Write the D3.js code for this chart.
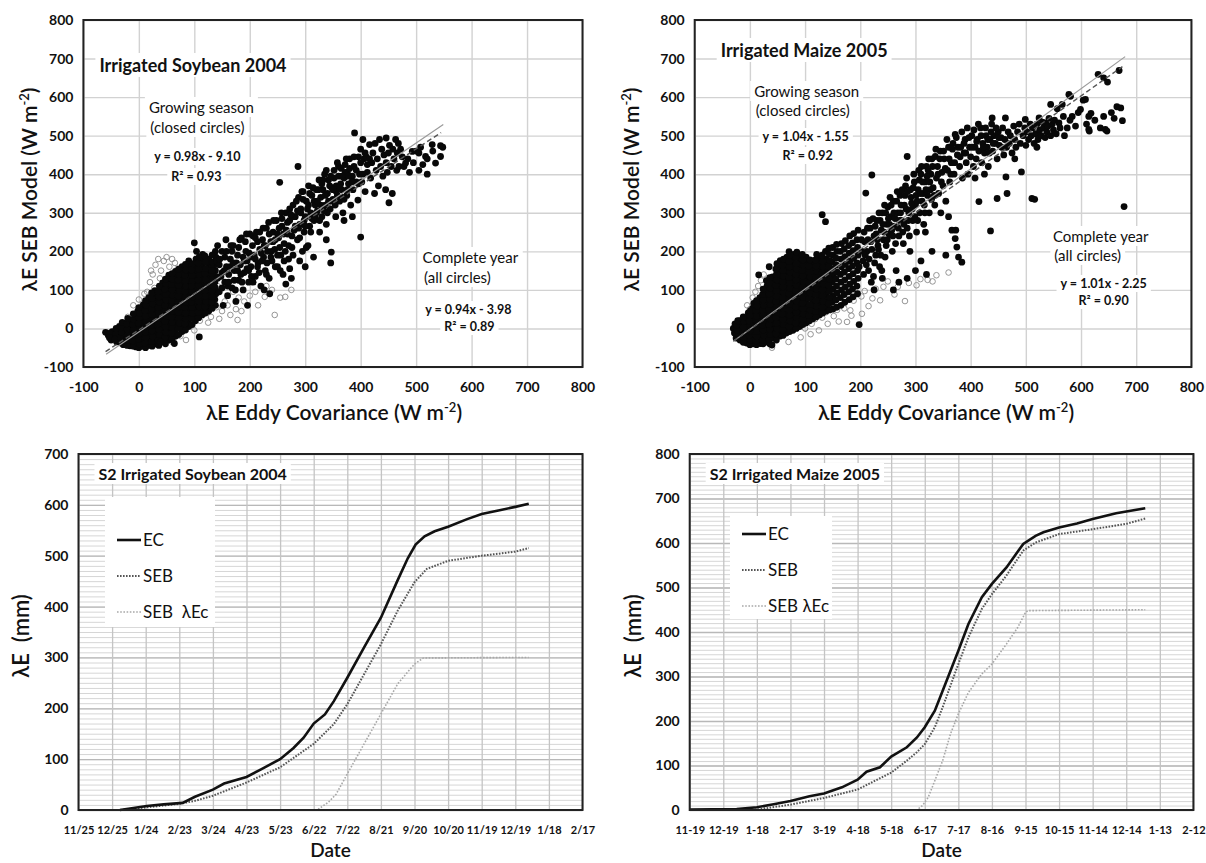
<!DOCTYPE html>
<html>
<head>
<meta charset="utf-8">
<title>SEB model vs eddy covariance</title>
<script src="https://d3js.org/d3.v7.min.js"></script>
<style>
  body { margin: 0; background: #fff; }
  text { font-family: Lato, "Open Sans", sans-serif; fill: #111; }
</style>
</head>
<body>
<svg width="1206" height="863"></svg>
<script>
// ---- data ----
const scatterTicks = [-100, 0, 100, 200, 300, 400, 500, 600, 700, 800];

// soybean 2004: growing season (closed) and rest of year (open), W m-2
const soyClosed = [
  [-60,-10],[-55,-18],[-48,-8],[-45,-20],[-50,-30],[-38,-5],[-36,-20],[-40,-35],[-35,5],
  [-28,-42],[-26,-28],[-29,-14],[-27,0],[-25,12],[-16,-45],[-15,-32],[-17,-18],[-14,-4],[-16,10],[-15,22],
  [-5,-48],[-4,-35],[-6,-22],[-3,-8],[-5,6],[-4,20],[-6,32],[-2,45],
  [6,-46],[5,-33],[7,-20],[6,-6],[5,8],[7,22],[6,36],[5,50],[8,62],
  [18,-44],[17,-30],[19,-16],[18,-2],[17,12],[19,26],[18,40],[17,54],[19,68],[18,80],
  [30,-40],[29,-26],[31,-12],[30,2],[29,16],[31,30],[30,44],[29,58],[31,72],[30,86],[29,98],
  [42,-35],[41,-20],[43,-6],[42,8],[41,22],[43,36],[42,50],[41,64],[43,78],[42,92],[41,106],[43,118],
  [54,-30],[53,-15],[55,0],[54,14],[53,28],[55,42],[54,56],[53,70],[55,84],[54,98],[53,112],[55,126],[54,138],
  [66,-20],[65,-6],[67,8],[66,22],[65,36],[67,50],[66,64],[65,78],[67,92],[66,106],[65,120],[67,134],[66,148],
  [78,-8],[77,6],[79,20],[78,34],[77,48],[79,62],[78,76],[77,90],[79,104],[78,118],[77,132],[79,146],[78,160],
  [90,5],[89,19],[91,33],[90,47],[89,61],[91,75],[90,89],[89,103],[91,117],[90,131],[89,145],[91,160],[90,175],
  [102,20],[101,34],[103,48],[102,62],[101,76],[103,90],[102,104],[101,118],[103,132],[102,146],[101,160],[103,180],[100,222],[104,200],
  [114,35],[113,50],[115,64],[114,78],[113,92],[115,106],[114,120],[113,134],[115,148],[114,162],[113,178],[115,192],
  [126,45],[125,60],[127,75],[126,90],[125,105],[127,120],[126,135],[125,150],[127,165],[126,180],
  [138,60],[137,75],[139,90],[138,105],[137,120],[139,135],[138,150],[137,165],[139,185],[138,200],
  [-52,-12],[-53,-24],[-42,-14],[-43,-28],[-41,0],[-32,-38],[-33,-24],[-31,-10],[-32,4],[-30,16],
  [-21,-44],[-22,-30],[-20,-16],[-21,-2],[-22,12],[-20,26],[-10,-46],[-11,-32],[-9,-18],[-10,-4],[-11,10],[-9,24],[-10,38],
  [0,-50],[1,-40],[-1,-28],[0,-14],[1,0],[-1,14],[0,28],[1,40],[0,54],
  [12,-50],[11,-38],[13,-24],[12,-10],[11,4],[13,18],[12,32],[11,46],[13,60],[12,72],
  [24,-46],[23,-34],[25,-20],[24,-6],[23,8],[25,22],[24,36],[23,50],[25,64],[24,78],[23,92],
  [36,-44],[35,-30],[37,-16],[36,-2],[35,12],[37,26],[36,40],[35,54],[37,68],[36,82],[35,96],[37,110],
  [48,-40],[47,-24],[49,-10],[48,4],[47,18],[49,32],[48,46],[47,60],[49,74],[48,88],[47,102],[49,116],[48,128],
  [60,-28],[59,-12],[61,2],[60,16],[59,30],[61,44],[60,58],[59,72],[61,86],[60,100],[59,114],[61,128],[60,142],
  [72,-16],[71,0],[73,14],[72,28],[71,42],[73,56],[72,70],[71,84],[73,98],[72,112],[71,126],[73,140],[72,154],
  [84,-4],[83,12],[85,26],[84,40],[83,54],[85,68],[84,82],[83,96],[85,110],[84,124],[83,138],[85,152],[84,166],
  [96,10],[95,26],[97,40],[96,54],[95,68],[97,82],[96,96],[95,110],[97,124],[96,138],[95,152],[97,168],
  [108,28],[107,42],[109,56],[108,70],[107,84],[109,98],[108,112],[107,126],[109,140],[108,154],[107,170],[109,186],
  [120,40],[119,56],[121,70],[120,84],[119,98],[121,112],[120,126],[119,142],[121,156],[120,172],[119,188],
  [132,52],[131,68],[133,82],[132,98],[131,112],[133,128],[132,142],[131,158],[133,172],[132,190],
  [64,-39],[39,-35],[109,-22],
  [132,150],[135,110],[140,175],[145,95],[148,135],[150,200],[152,60],[155,120],[158,160],[160,85],[142,215],[157,230],
  [162,140],[165,180],[168,105],[170,215],[172,150],[175,70],[178,190],[180,125],[183,165],[185,235],[188,100],[190,145],[193,200],[195,175],[198,120],[200,245],[196,60],
  [202,160],[205,215],[208,190],[210,135],[212,250],[215,170],[218,205],[220,110],[223,230],[225,185],[228,150],[230,260],[232,200],[235,130],[238,225],[240,175],[236,90],[226,100],
  [242,250],[245,205],[248,280],[250,160],[252,235],[254,379],[256,190],[258,265],[260,140],[262,220],[265,300],[268,245],[270,180],[272,280],[275,130],[276,210],[278,320],[280,255],[265,115],[255,150],[272,155],
  [282,290],[287,420],[286,230],[288,340],[290,270],[292,310],[295,200],[296,355],[298,250],[300,290],[302,330],[305,215],[306,370],[308,265],[310,300],[312,345],[315,185],[316,280],[318,320],[320,360],[300,160],[290,175],
  [322,305],[325,385],[326,250],[328,340],[330,290],[332,360],[335,400],[336,320],[338,270],[340,350],[342,385],[345,310],[346,170],[348,365],[350,335],[352,410],[355,290],[356,370],[358,345],[360,395],[347,198],[338,230],
  [362,330],[365,415],[366,360],[368,300],[370,390],[372,425],[375,345],[376,405],[378,375],[380,440],[382,320],[385,395],[386,360],[388,420],[389,507],[392,380],[395,333],[396,445],[398,400],[400,237],[400,465],[385,290],[370,280],
  [402,380],[404,490],[406,440],[408,355],[410,445],[412,405],[416,477],[418,390],[420,430],[422,455],[425,350],[426,480],[428,410],[430,440],[432,370],[434,490],[436,420],[438,465],[440,395],[442,450],[446,494],[446,430],[448,405],[450,455],[451,326],[457,350],[445,360],
  [452,475],[455,420],[458,465],[460,440],[463,490],[465,410],[466,455],[468,480],[469,420],[472,465],[475,445],[478,420],[481,429],[485,440],[488,405],[493,459],[495,430],[500,460],[505,455],[508,470],[512,425],[517,446],[520,440],[529,477],[530,460],[535,429],[544,474],[544,446],[548,470],[520,400],[505,410],
  [145,165],[150,145],[155,185],[160,110],[165,160],[168,200],[172,125],[176,170],[180,210],[184,140],[188,185],[192,225],[195,155],[199,195],[203,135],[206,240],[210,180],[214,225],[217,145],[221,195],
  [224,260],[228,215],[231,170],[235,245],[239,200],[243,280],[246,230],[250,190],[253,260],[257,300],[261,245],[264,200],[268,275],[272,310],[276,240],[280,290],[284,330],[288,260],[292,300],[296,335],
  [300,265],[304,310],[308,350],[312,285],[316,330],[320,300],[324,360],[328,320],[332,385],[336,345],[340,300],[344,370],[348,330],[352,390],[356,355],[360,420],[364,375],[368,340],[372,405],[376,360],
  [380,415],[384,380],[388,445],[392,410],[396,375],[400,430],[404,400],[408,455],[412,425],[416,440],
  [142,130],[146,180],[150,105],[154,150],[158,200],[162,120],[166,215],[170,170],[174,100],[178,150],[182,230],[186,120],[190,175],[194,245],[198,150],[202,185],[206,120],[210,235],[214,160],[218,250],
  [222,175],[226,215],[230,140],[234,275],[238,185],[242,225],[246,160],[250,245],[254,210],[258,285],[262,175],[266,255],[270,215],[274,295],[278,190],[282,265],[286,305],[290,235],[294,355],[298,280],
  [302,210],[306,320],[310,250],[314,365],[318,290],[322,330],[326,280],[330,375],[334,305],[338,410],[342,330],[346,395],[350,360],[354,320],[358,430],[362,365],[366,395],[370,335],[374,440],[378,395]
];
const soyOpen = [
  [15,95],[20,120],[25,140],[30,165],[35,180],[40,150],[45,175],[50,185],[55,160],[60,180],[65,170],[28,105],[38,130],
  [48,110],[22,150],[10,90],[58,140],[70,155],[-10,60],[0,75],[-20,30],[-30,-10],[-40,-25],[75,-20],[85,-30],[60,-35],
  [110,20],[120,40],[130,30],[140,55],[150,45],[160,60],[165,35],[175,50],[180,80],[190,70],[200,85],[210,95],[215,60],
  [227,82],[230,110],[240,100],[245,35],[255,80],[264,82],[275,100],[125,15],[145,25],[155,70],[185,45],[100,-5],[95,10],
  [135,75],[170,95],[142,110],[160,115],[178,22]
];
// fitted lines: [x0, y0, x1, y1]
const soyFitSeason = [-59, -67, 549, 529];
const soyFitYear = [-60, -60, 545, 508];

// maize 2005
const maizeClosed = [
  [-30,0],[-28,-12],[-27,12],[-25,-25],[-18,-30],[-17,-18],[-19,-5],[-16,8],[-18,20],
  [-6,-38],[-5,-25],[-7,-12],[-4,1],[-6,14],[-5,27],[-3,40],
  [6,-40],[5,-27],[7,-14],[6,-1],[5,12],[7,25],[6,38],[5,52],[7,65],
  [18,-38],[17,-25],[19,-12],[18,1],[17,14],[19,27],[18,40],[17,53],[19,66],[18,80],[16,139],[19,-39],
  [30,-35],[29,-22],[31,-9],[30,4],[29,17],[31,30],[30,43],[29,56],[31,69],[30,82],[29,96],[31,110],[30,124],
  [40,-43],[41,-25],[43,-12],[42,1],[41,14],[43,27],[42,40],[41,53],[43,66],[42,79],[41,92],[43,106],[42,120],[41,134],[35,160],
  [54,-20],[53,-6],[55,8],[54,22],[53,36],[55,50],[54,64],[53,78],[55,92],[54,106],[53,120],[55,134],[54,148],[53,162],[55,176],
  [66,-12],[65,2],[67,16],[66,30],[65,44],[67,58],[66,72],[65,86],[67,100],[66,114],[65,128],[67,142],[66,156],[65,170],[67,185],[71,199],
  [78,-5],[77,9],[79,23],[78,37],[77,51],[79,65],[78,79],[77,93],[79,107],[78,121],[77,135],[79,149],[78,163],[77,178],[79,192],
  [90,5],[89,19],[91,33],[90,47],[89,61],[91,75],[90,89],[89,103],[91,117],[90,131],[89,145],[91,160],[90,175],[89,188],
  [102,15],[101,29],[103,43],[102,57],[101,71],[103,85],[102,99],[101,113],[103,127],[102,141],[101,155],[103,170],[102,185],
  [114,25],[113,40],[115,55],[114,70],[113,85],[115,100],[114,115],[113,130],[115,145],[114,160],[113,175],
  [126,35],[125,50],[127,65],[126,80],[125,95],[127,110],[126,125],[125,140],[127,155],[126,170],[125,185],
  [138,45],[137,60],[139,75],[138,90],[137,105],[139,120],[138,135],[137,150],[139,165],[138,180],[137,200],[137,277],[131,295],
  [150,50],[149,68],[151,85],[150,102],[149,120],[151,138],[150,155],[149,172],[151,190],[150,210],
  [165,60],[164,80],[166,100],[165,120],[164,140],[166,160],[165,180],[164,200],[166,220],
  [180,75],[179,95],[181,115],[180,135],[179,155],[181,175],[180,195],[179,215],[181,240],
  [195,90],[194,110],[196,130],[195,150],[194,170],[196,190],[195,210],[194,230],[196,255],[198,10],
  [-24,-18],[-23,-5],[-24,8],[-22,20],[-12,-36],[-11,-24],[-13,-10],[-12,4],[-11,18],[-12,30],
  [0,-42],[1,-30],[-1,-18],[0,-6],[1,6],[-1,20],[0,33],[1,46],
  [12,-42],[11,-32],[13,-20],[12,-8],[11,6],[13,20],[12,32],[11,46],[13,58],[12,72],
  [24,-40],[23,-30],[25,-18],[24,-4],[23,8],[25,22],[24,34],[23,48],[25,60],[24,74],[23,88],[24,102],
  [36,-40],[35,-28],[37,-16],[36,-2],[35,10],[37,24],[36,36],[35,50],[37,62],[36,76],[35,90],[37,104],[36,118],[36,132],
  [48,-30],[47,-14],[49,0],[48,14],[47,28],[49,42],[48,56],[47,70],[49,84],[48,98],[47,112],[49,126],[48,140],[47,154],[49,168],
  [60,-18],[59,-4],[61,10],[60,24],[59,38],[61,52],[60,66],[59,80],[61,94],[60,108],[59,122],[61,136],[60,150],[59,164],[61,180],
  [72,-8],[71,6],[73,20],[72,34],[71,48],[73,62],[72,76],[71,90],[73,104],[72,118],[71,132],[73,146],[72,160],[71,174],[73,190],
  [84,0],[83,14],[85,28],[84,42],[83,56],[85,70],[84,84],[83,98],[85,112],[84,126],[83,140],[85,154],[84,168],[83,184],[85,198],
  [96,10],[95,24],[97,38],[96,52],[95,66],[97,80],[96,94],[95,108],[97,122],[96,136],[95,150],[97,164],[96,178],[95,192],
  [108,20],[107,34],[109,48],[108,62],[107,78],[109,92],[108,106],[107,120],[109,134],[108,148],[107,162],[109,178],
  [120,30],[119,44],[121,58],[120,72],[119,88],[121,102],[120,118],[119,132],[121,148],[120,162],[119,178],[121,192],
  [132,40],[131,55],[133,70],[132,85],[131,100],[133,115],[132,130],[131,145],[133,160],[132,175],[131,190],
  [144,48],[143,64],[145,80],[144,96],[143,112],[145,128],[144,144],[143,160],[145,176],[144,192],[143,208],
  [157,55],[156,74],[158,92],[157,110],[156,128],[158,146],[157,164],[156,182],[158,200],[157,218],
  [172,68],[171,88],[173,108],[172,126],[171,146],[173,166],[172,186],[171,206],[173,228],
  [187,82],[186,102],[188,122],[187,142],[186,162],[188,182],[187,202],[186,222],[188,246],
  [205,175],[208,225],[210,351],[212,200],[215,150],[218,260],[220,120],[221,398],[225,240],[228,190],[230,280],[232,215],[235,160],[238,255],[240,300],[242,230],[245,185],[248,270],[250,315],[225,100],[240,130],
  [252,245],[255,290],[258,200],[260,330],[262,265],[265,150],[268,300],[270,240],[272,345],[275,280],[278,220],[280,320],[282,370],[285,446],[285,260],[288,300],[290,200],[292,340],[295,280],[298,380],[300,320],[270,120],[260,100],[285,130],[300,150],
  [302,250],[305,360],[308,300],[310,400],[312,330],[315,270],[318,250],[318,380],[320,420],[322,345],[325,300],[328,400],[330,440],[332,365],[335,320],[336,446],[338,390],[340,420],[342,350],[345,460],[346,300],[348,405],[350,370],[310,175],[330,200],[320,140],
  [352,440],[355,330],[358,410],[360,470],[362,380],[365,430],[366,255],[368,480],[370,400],[372,503],[372,233],[373,255],[375,211],[376,450],[378,185],[380,420],[382,470],[384,172],[385,390],[388,455],[390,490],[392,430],[395,400],[398,470],[400,445],[360,290],[355,190],
  [402,500],[405,420],[408,470],[410,440],[412,490],[415,329],[415,460],[418,520],[420,430],[422,480],[425,455],[428,500],[430,470],[432,420],[435,490],[436,253],[438,530],[439,546],[440,460],[442,500],[445,480],[448,337],[448,440],[450,510],[408,390],[425,400],
  [452,475],[455,495],[458,520],[460,450],[462,490],[463,546],[465,470],[466,350],[468,510],[470,480],[472,500],[475,455],[478,525],[480,490],[482,470],[485,510],[488,530],[490,480],[492,406],[495,500],[498,520],[499,542],[500,475],[464,393],[480,440],
  [502,510],[505,490],[508,530],[510,500],[511,337],[512,520],[515,480],[516,335],[518,505],[520,530],[522,490],[524,546],[525,515],[528,500],[530,535],[532,520],[535,495],[536,533],[538,510],[540,525],[542,545],[545,581],[545,500],[548,530],[550,515],[552,540],[555,505],[557,570],[560,533],[520,470],
  [562,520],[566,581],[568,550],[570,500],[575,520],[578,607],[580,540],[581,602],[584,550],[590,525],[595,560],[599,568],[604,592],[608,594],[610,530],[614,550],[614,516],[615,512],[618,558],[625,540],[631,659],[635,520],[641,550],[641,650],[644,516],[647,512],[648,639],[655,560],[660,545],[669,669],[672,572],[675,539],[678,316],[665,575],
  [203,200],[207,250],[211,165],[214,230],[217,280],[221,205],[224,135],[227,265],[231,230],[234,300],[237,190],[241,270],[244,320],[247,215],[251,285],[254,340],[257,255],[261,300],[264,220],[267,355],
  [271,280],[274,320],[277,250],[281,345],[284,390],[287,280],[291,360],[294,310],[297,400],[301,345],[304,280],[307,385],[311,420],[314,350],[317,300],[321,395],[324,440],[327,360],[331,420],[334,345],
  [337,465],[341,400],[344,440],[347,380],[351,460],[354,415],[357,490],[361,440],[364,400],[367,465],[371,430],[374,495],[377,470],[381,445],[384,510],[388,480],[391,455],[394,520],[397,495],[403,470],
  [406,515],[411,485],[414,530],[419,500],[423,470],[427,520],[431,490],[434,455],[437,510],[441,480],[446,520],[451,495],[456,470],
  [198,160],[202,230],[206,140],[209,190],[213,260],[216,180],[219,225],[223,285],[226,170],[229,245],[233,205],[236,280],[239,150],[243,250],[246,300],[249,230],[253,270],[256,320],[259,240],[263,285],
  [266,330],[269,260],[273,300],[276,360],[279,270],[283,310],[286,355],[289,240],[293,325],[296,365],[299,290],[303,330],[306,410],[309,350],[313,380],[316,320],[319,360],[323,410],[326,380],[329,335]
];
const maizeOpen = [
  [10,95],[15,110],[20,125],[5,80],[-5,60],[25,140],[12,70],[0,50],
  [100,0],[112,12],[118,24],[131,28],[138,42],[152,32],[158,48],[171,52],[182,47],[188,72],[202,83],[208,97],[222,78],
  [228,103],[242,108],[250,122],[262,88],[268,108],[281,71],[288,118],[302,112],[309,128],[322,126],[331,122],[338,138],
  [360,145],[203,38],[184,33],[161,18],[141,12],[125,-5],[110,-15],[92,-23],[70,-35],[40,-50],[176,17],[215,58],[236,73]
];
const maizeFitSeason = [-30, -33, 680, 705];
const maizeFitYear = [-30, -33, 675, 679];

// cumulative lambda-E (mm)
const soyDateTicks = ["2003-11-25","2003-12-25","2004-01-24","2004-02-23","2004-03-24","2004-04-23","2004-05-23","2004-06-22",
  "2004-07-22","2004-08-21","2004-09-20","2004-10-20","2004-11-19","2004-12-19","2005-01-18","2005-02-17"];
const soyEC = [["2004-01-01",0],["2004-01-13",4],["2004-01-25",8],["2004-02-09",11],["2004-02-26",14],["2004-03-08",26],
  ["2004-03-24",40],["2004-04-03",52],["2004-04-23",65],["2004-05-06",80],["2004-05-23",100],["2004-06-04",122],
  ["2004-06-13",142],["2004-06-22",170],["2004-07-02",188],["2004-07-10",214],["2004-07-22",260],["2004-08-06",320],
  ["2004-08-21",378],["2004-09-05",452],["2004-09-14",495],["2004-09-21",522],["2004-09-29",538],["2004-10-08",548],
  ["2004-10-20",557],["2004-11-06",572],["2004-11-19",582],["2004-12-06",590],["2004-12-19",596],["2004-12-31",602]];
const soySEB = [["2004-01-01",0],["2004-01-24",5],["2004-02-23",12],["2004-03-08",18],["2004-03-24",28],["2004-04-23",54],
  ["2004-05-23",84],["2004-06-22",130],["2004-07-10",169],["2004-07-22",208],["2004-08-06",267],["2004-08-21",326],
  ["2004-09-05",392],["2004-09-20",448],["2004-10-01",474],["2004-10-20",490],["2004-11-19",500],["2004-12-19",508],["2004-12-31",515]];
const soySEBc = [["2004-01-01",0],["2004-06-25",0],["2004-07-05",15],["2004-07-12",31],["2004-07-22",71],["2004-08-06",130],
  ["2004-08-21",189],["2004-09-05",248],["2004-09-20",287],["2004-09-28",299],["2004-12-31",300]];

const maizeDateTicks = ["2004-11-19","2004-12-19","2005-01-18","2005-02-17","2005-03-19","2005-04-18","2005-05-18","2005-06-17",
  "2005-07-17","2005-08-16","2005-09-15","2005-10-15","2005-11-14","2005-12-14","2006-01-13","2006-02-12"];
const maizeEC = [["2004-11-19",1],["2004-12-31",2],["2005-01-18",6],["2005-02-02",13],["2005-02-17",20],["2005-03-06",31],
  ["2005-03-19",37],["2005-04-04",51],["2005-04-18",68],["2005-04-26",86],["2005-05-08",96],["2005-05-18",120],
  ["2005-06-01",141],["2005-06-10",163],["2005-06-17",186],["2005-06-26",223],["2005-07-03",268],["2005-07-17",358],
  ["2005-07-26",418],["2005-08-07",478],["2005-08-16",508],["2005-08-29",545],["2005-09-13",598],["2005-09-24",616],
  ["2005-10-01",624],["2005-10-15",635],["2005-10-31",644],["2005-11-14",654],["2005-12-05",667],["2005-12-31",678]];
const maizeSEB = [["2004-12-31",0],["2005-01-18",1],["2005-02-17",12],["2005-03-19",27],["2005-04-18",46],["2005-05-18",84],
  ["2005-06-01",111],["2005-06-10",130],["2005-06-17",148],["2005-06-26",186],["2005-07-03",231],["2005-07-17",328],
  ["2005-07-26",388],["2005-08-07",452],["2005-08-16",485],["2005-08-29",527],["2005-09-13",583],["2005-09-24",601],
  ["2005-10-15",620],["2005-11-14",631],["2005-12-14",643],["2005-12-31",655]];
const maizeSEBc = [["2004-12-31",0],["2005-06-10",0],["2005-06-15",10],["2005-06-20",28],["2005-06-26",66],["2005-07-03",111],
  ["2005-07-10",171],["2005-07-17",216],["2005-07-26",264],["2005-08-07",306],["2005-08-16",328],["2005-08-29",373],
  ["2005-09-08",410],["2005-09-15",444],["2005-09-17",448],["2005-12-31",450]];

// ---- drawing ----
const svg = d3.select("svg");
const parse = d3.timeParse("%Y-%m-%d");

// text with a white box behind it, like an Excel text box
function note(g, x, y, str, size, weight, anchor) {
    const t = g.append("text")
        .attr("x", x).attr("y", y)
        .attr("text-anchor", anchor || "middle")
        .attr("font-size", size)
        .attr("font-weight", weight || "normal")
        .text(str);
    const b = t.node().getBBox();
    g.insert("rect", () => t.node())
        .attr("x", b.x - 4).attr("y", b.y - 1)
        .attr("width", b.width + 8).attr("height", b.height + 2)
        .attr("fill", "#fff");
    return t;
}

function unitTitle(g, x, y, label, rotate) {
    const t = g.append("text")
        .attr("text-anchor", "middle")
        .attr("font-size", 21)
        .attr("font-weight", 600)
        .attr("transform", `translate(${x},${y})` + (rotate ? " rotate(-90)" : ""));
    t.append("tspan").text(label + " (W m");
    t.append("tspan").attr("dy", -8).attr("font-size", 13).text("-2");
    t.append("tspan").attr("dy", 8).text(")");
}

function scatterPanel(p) {
    const x = d3.scaleLinear().domain([-100, 800]).range([p.left, p.right]);
    const y = d3.scaleLinear().domain([-100, 800]).range([p.bottom, p.top]);
    const g = svg.append("g");
    const h = p.bottom - p.top, w = p.right - p.left;

    // grid
    g.append("g").attr("transform", `translate(0,${p.bottom})`)
        .call(d3.axisBottom(x).tickValues(scatterTicks).tickSize(-h).tickFormat(""))
        .call(a => a.select(".domain").remove())
        .call(a => a.selectAll("line").attr("stroke", "#d2d2d2").attr("stroke-width", 1.4));
    g.append("g").attr("transform", `translate(${p.left},0)`)
        .call(d3.axisLeft(y).tickValues(scatterTicks).tickSize(-w).tickFormat(""))
        .call(a => a.select(".domain").remove())
        .call(a => a.selectAll("line").attr("stroke", "#d2d2d2").attr("stroke-width", 1.4));

    // tick labels (plain hyphen for negatives, as in the figure)
    g.append("g").attr("transform", `translate(0,${p.bottom})`)
        .call(d3.axisBottom(x).tickValues(scatterTicks).tickSize(0).tickPadding(15).tickFormat(String))
        .call(a => a.select(".domain").remove())
        .call(a => a.selectAll("text").attr("font-size", 14).attr("font-weight", "bold").attr("fill", "#111"));
    g.append("g").attr("transform", `translate(${p.left},0)`)
        .call(d3.axisLeft(y).tickValues(scatterTicks).tickSize(0).tickPadding(10).tickFormat(String))
        .call(a => a.select(".domain").remove())
        .call(a => a.selectAll("text").attr("font-size", 14).attr("font-weight", "bold").attr("fill", "#111"));

    // text boxes
    const L = p.left, T = p.top;
    note(g, L + p.n.title[0], T + p.n.title[1], p.title, 18, "bold", "start");
    note(g, L + p.n.grow[0], T + p.n.grow[1], "Growing season", 15);
    note(g, L + p.n.closed[0], T + p.n.closed[1], "(closed circles)", 15);
    note(g, L + p.n.eq1[0], T + p.n.eq1[1], p.eq1, 12.5, "bold");
    note(g, L + p.n.r1[0], T + p.n.r1[1], p.r1, 12.5, "bold");
    note(g, L + p.n.year[0], T + p.n.year[1], "Complete year", 15);
    note(g, L + p.n.all[0], T + p.n.all[1], "(all circles)", 15);
    note(g, L + p.n.eq2[0], T + p.n.eq2[1], p.eq2, 12.5, "bold");
    note(g, L + p.n.r2[0], T + p.n.r2[1], p.r2, 12.5, "bold");

    // points
    g.append("g").selectAll("circle").data(p.open).join("circle")
        .attr("cx", d => x(d[0])).attr("cy", d => y(d[1])).attr("r", 2.8)
        .attr("fill", "none").attr("stroke", "#8a8a8a").attr("stroke-width", 0.9);
    g.append("g").selectAll("circle").data(p.closed).join("circle")
        .attr("cx", d => x(d[0])).attr("cy", d => y(d[1])).attr("r", 3.4)
        .attr("fill", "#080808");

    // regression lines
    g.append("line")
        .attr("x1", x(p.fitA[0])).attr("y1", y(p.fitA[1])).attr("x2", x(p.fitA[2])).attr("y2", y(p.fitA[3]))
        .attr("stroke", "#9a9a9a").attr("stroke-width", 1.2);
    g.append("line")
        .attr("x1", x(p.fitB[0])).attr("y1", y(p.fitB[1])).attr("x2", x(p.fitB[2])).attr("y2", y(p.fitB[3]))
        .attr("stroke", "#555").attr("stroke-width", 1.4).attr("stroke-dasharray", "5,3");

    // frame
    g.append("rect").attr("x", p.left).attr("y", p.top).attr("width", w).attr("height", h)
        .attr("fill", "none").attr("stroke", "#222").attr("stroke-width", 2);

    unitTitle(g, p.ytitleX, (p.top + p.bottom) / 2 - 4, "λE SEB Model", true);
    unitTitle(g, p.xtitleX, 420, "λE Eddy Covariance", false);
}

function cumPanel(p) {
    const ticks = p.ticks.map(parse);
    const x = d3.scaleTime().domain([ticks[0], ticks[ticks.length - 1]]).range([p.left, p.right]);
    const y = d3.scaleLinear().domain([0, p.ymax]).range([p.bottom, p.top]);
    const g = svg.append("g");
    const h = p.bottom - p.top, w = p.right - p.left;

    // minor horizontal grid every 10 mm
    g.append("g").attr("transform", `translate(${p.left},0)`)
        .call(d3.axisLeft(y).tickValues(d3.range(10, p.ymax, 10)).tickSize(-w).tickFormat(""))
        .call(a => a.select(".domain").remove())
        .call(a => a.selectAll("line").attr("stroke", "#d6d6d6").attr("stroke-width", 1));
    // major grid
    g.append("g").attr("transform", `translate(${p.left},0)`)
        .call(d3.axisLeft(y).tickValues(d3.range(0, p.ymax + 1, 100)).tickSize(-w).tickFormat(""))
        .call(a => a.select(".domain").remove())
        .call(a => a.selectAll("line").attr("stroke", "#b8b8b8").attr("stroke-width", 1.3));
    g.append("g").attr("transform", `translate(0,${p.bottom})`)
        .call(d3.axisBottom(x).tickValues(ticks).tickSize(-h).tickFormat(""))
        .call(a => a.select(".domain").remove())
        .call(a => a.selectAll("line").attr("stroke", "#c4c4c4").attr("stroke-width", 1.3));

    // tick labels
    g.append("g").attr("transform", `translate(0,${p.bottom})`)
        .call(d3.axisBottom(x).tickValues(ticks).tickSize(0).tickPadding(16).tickFormat(d3.timeFormat(p.fmt)))
        .call(a => a.select(".domain").remove())
        .call(a => a.selectAll("text").attr("font-size", 11).attr("font-weight", "bold").attr("fill", "#111"));
    g.append("g").attr("transform", `translate(${p.left},0)`)
        .call(d3.axisLeft(y).tickValues(d3.range(0, p.ymax + 1, 100)).tickSize(0).tickPadding(10))
        .call(a => a.select(".domain").remove())
        .call(a => a.selectAll("text").attr("font-size", 14).attr("font-weight", "bold").attr("fill", "#111"));

    // title box and legend box
    note(g, p.left + 20, p.top + 26, p.title, 16, "bold", "start");
    const lg = p.legend;
    g.append("rect").attr("x", lg[0]).attr("y", lg[1]).attr("width", lg[2]).attr("height", lg[3]).attr("fill", "#fff");

    const line = d3.line().x(d => x(parse(d[0]))).y(d => y(d[1]));
    const styles = [
        { data: p.ec, name: "EC", stroke: "#111", sw: 2.6, dash: null },
        { data: p.seb, name: "SEB", stroke: "#555", sw: 2, dash: "1.6,1.4" },
        { data: p.sebc, name: p.cname, stroke: "#a8a8a8", sw: 1.6, dash: "1.6,1.6" }
    ];
    // draw the lighter series first so EC sits on top
    styles.slice().reverse().forEach(s => {
        g.append("path").attr("d", line(s.data)).attr("fill", "none")
            .attr("stroke", s.stroke).attr("stroke-width", s.sw)
            .attr("stroke-dasharray", s.dash);
    });
    styles.forEach((s, i) => {
        const ly = p.legendY + i * 36;
        g.append("line").attr("x1", lg[0] + 12).attr("x2", lg[0] + 36).attr("y1", ly).attr("y2", ly)
            .attr("stroke", s.stroke).attr("stroke-width", s.sw).attr("stroke-dasharray", s.dash);
        g.append("text").attr("x", lg[0] + 38).attr("y", ly + 6).attr("font-size", 17).text(s.name);
    });

    g.append("rect").attr("x", p.left).attr("y", p.top).attr("width", w).attr("height", h)
        .attr("fill", "none").attr("stroke", "#222").attr("stroke-width", 2);

    g.append("text").attr("text-anchor", "middle")
        .attr("transform", `translate(${p.ytitleX},${(p.top + p.bottom) / 2 + 4}) rotate(-90)`)
        .attr("font-size", 22).attr("font-weight", 600).text("λE\u00a0\u00a0(mm)");
    g.append("text").attr("text-anchor", "middle").attr("x", (p.left + p.right) / 2).attr("y", 857)
        .attr("font-size", 19).attr("font-weight", 600).text("Date");
}

scatterPanel({
    left: 83.4, right: 582.5, top: 20, bottom: 367,
    closed: soyClosed, open: soyOpen, fitA: soyFitSeason, fitB: soyFitYear,
    title: "Irrigated Soybean 2004",
    eq1: "y = 0.98x - 9.10", r1: "R² = 0.93", eq2: "y = 0.94x - 3.98", r2: "R² = 0.89",
    n: { title: [16, 52], grow: [118, 93], closed: [114, 113], eq1: [114, 141], r1: [113, 161],
         year: [387, 243], all: [374, 263], eq2: [385, 294], r2: [386, 311] },
    ytitleX: 37, xtitleX: 334
});
scatterPanel({
    left: 694.7, right: 1191.4, top: 20, bottom: 367,
    closed: maizeClosed, open: maizeOpen, fitA: maizeFitSeason, fitB: maizeFitYear,
    title: "Irrigated Maize 2005",
    eq1: "y = 1.04x - 1.55", r1: "R² = 0.92", eq2: "y = 1.01x - 2.25", r2: "R² = 0.90",
    n: { title: [26, 37], grow: [112, 77], closed: [108, 96], eq1: [111, 121], r1: [113, 140],
         year: [406, 222], all: [393, 241], eq2: [409, 268], r2: [409, 285] },
    ytitleX: 639, xtitleX: 946
});
cumPanel({
    left: 78.5, right: 582.5, top: 454, bottom: 810, ymax: 700,
    ticks: soyDateTicks, fmt: "%-m/%-d", title: "S2 Irrigated Soybean 2004",
    ec: soyEC, seb: soySEB, sebc: soySEBc, cname: "SEB\u00a0\u00a0λEc",
    legend: [105, 497, 110, 130], legendY: 540, ytitleX: 29
});
cumPanel({
    left: 689.7, right: 1193.4, top: 454, bottom: 810, ymax: 800,
    ticks: maizeDateTicks, fmt: "%-m-%-d", title: "S2 Irrigated Maize 2005",
    ec: maizeEC, seb: maizeSEB, sebc: maizeSEBc, cname: "SEB λEc",
    legend: [730, 516, 102, 103], legendY: 534, ytitleX: 641
});
</script>
</body>
</html>
